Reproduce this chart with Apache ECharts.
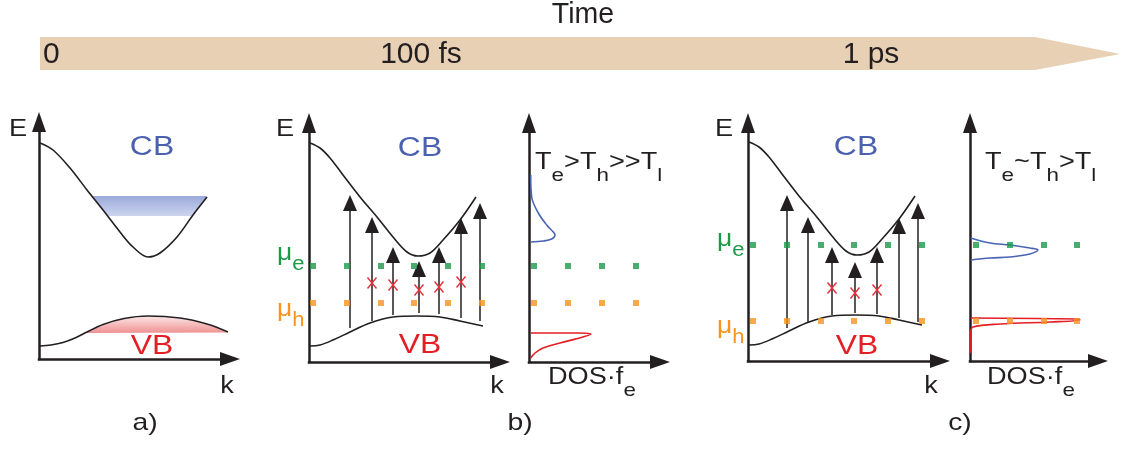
<!DOCTYPE html>
<html>
<head>
<meta charset="utf-8">
<script src="https://cdn.jsdelivr.net/npm/echarts@6/dist/echarts.min.js"></script>
<style>
  html, body { margin: 0; padding: 0; background: #ffffff; }
  #chart { width: 1122px; height: 450px; }
</style>
</head>
<body>
<div id="chart"></div>
<script>
// ---------------- data (k and E in arbitrary units) ----------------

// panel a: bands before excitation
const cbCurveA = [[0.01,2.16],[0.14,2.09],[0.31,1.91],[0.48,1.69],[0.64,1.49],[0.81,1.27],[0.94,1.12],[1.09,1.02],[1.21,1.06],[1.38,1.22],[1.54,1.44],[1.68,1.62]];
const vbCurveA = [[0.01,0.13],[0.12,0.14],[0.24,0.165],[0.36,0.21],[0.48,0.27],[0.64,0.345],[0.85,0.405],[1.09,0.43],[1.41,0.41],[1.68,0.35],[1.89,0.27]];
// occupied states (electrons in CB, holes in VB)
const electronFillA = [[0.53,1.63],[1.68,1.63],[1.53,1.43],[0.69,1.43]];
const holeFillA = [[0.46,0.26],[0.55,0.30],[0.64,0.34],[0.75,0.375],[0.85,0.40],[0.97,0.415],[1.09,0.423],[1.25,0.418],[1.41,0.403],[1.55,0.38],[1.68,0.345],[1.79,0.31],[1.89,0.265]];

// panels b and c: same band structure
const cbCurve = [[0.01,2.19],[0.11,2.14],[0.21,2.04],[0.34,1.87],[0.51,1.65],[0.68,1.45],[0.84,1.25],[0.98,1.10],[1.09,1.06],[1.21,1.09],[1.34,1.22],[1.51,1.42],[1.67,1.65]];
const vbCurve = [[0.01,0.16],[0.11,0.17],[0.24,0.22],[0.41,0.30],[0.61,0.39],[0.84,0.45],[1.08,0.46],[1.31,0.45],[1.51,0.41],[1.74,0.36]];

// panel b: optical transitions, blocked transitions, quasi-Fermi levels
const arrowK_B    = [0.41,0.63,0.84,1.10,1.30,1.52,1.71];
const arrowFrom_B = [0.34,0.41,0.47,0.49,0.48,0.44,0.41];
const arrowTo_B   = [1.67,1.45,1.15,1.01,1.15,1.44,1.59];
const crossK_B = [0.63,0.84,1.10,1.30,1.52];
const crossE_B = [0.79,0.77,0.72,0.75,0.80];
const muDotsK_B  = [0.04,0.38,0.72,1.05,1.39,1.73];
const dosDotsK_B = [0.05,0.39,0.73,1.07];
const muE_B = 0.96;
const muH_B = 0.59;
// panel b: DOS x occupation (DOS·f, E)
const dosElecB = [[0.017,1.87],[0.027,1.65],[0.093,1.49],[0.177,1.37],[0.243,1.30],[0.26,1.27],[0.227,1.23],[0.143,1.21],[0.017,1.20]];
const dosHoleB = [[0.017,0.29],[0.477,0.29],[0.62,0.28],[0.54,0.25],[0.31,0.19],[0.14,0.14],[0.06,0.09],[0.017,0.04]];

// panel c
const arrowK_C    = [0.39,0.60,0.84,1.07,1.29,1.51,1.70];
const arrowFrom_C = [0.33,0.39,0.46,0.48,0.47,0.43,0.39];
const arrowTo_C   = [1.66,1.44,1.14,0.99,1.14,1.43,1.58];
const crossK_C = [0.84,1.07,1.29];
const crossE_C = [0.73,0.68,0.71];
const muDotsK_C  = [0.05,0.39,0.73,1.06,1.40,1.74];
const dosDotsK_C = [0.06,0.40,0.74,1.07];
const muE_C = 1.16;
const muH_C = 0.40;
const dosElecC = [[0.007,1.23],[0.20,1.18],[0.40,1.16],[0.60,1.13],[0.68,1.11],[0.60,1.07],[0.40,1.04],[0.20,1.03],[0.007,1.01]];
const dosHoleC = [[0.007,0.43],[1.08,0.42],[1.10,0.41],[0.80,0.39],[0.30,0.37],[0.03,0.34],[0.007,0.28],[0.005,0.08]];

// text
const timeTitle = 'Time';
const timeTicks = ['0', '100 fs', '1 ps'];
const panelTags = ['a)', 'b)', 'c)'];

// ---------------- styling & layout ----------------
const INK = '#231f20';
const CB_BLUE = '#4b61b0';
const VB_RED = '#e31e24';
const CROSS_RED = '#e8303a';
const MU_GREEN = '#1c9a48';
const MU_ORANGE = '#f7931e';
const DOS_BLUE = '#4a64b4';
const FONT = '"Liberation Sans", Arial, Helvetica, sans-serif';
const SX = 1.18;   // lettering in the panels is slightly wide

const grids = [
  { left: 39,  top: 122, width: 191, height: 237 },  // a  E(k)
  { left: 309, top: 123, width: 191, height: 239 },  // b  E(k)
  { left: 529, top: 123, width: 131, height: 239 },  // b  DOS
  { left: 748, top: 123, width: 192, height: 238 },  // c  E(k)
  { left: 970, top: 123, width: 128, height: 238 }   // c  DOS
];

const axisLine = {
  show: true,
  lineStyle: { color: INK, width: 2.5, cap: 'square' },
  symbol: ['none', 'triangle'],
  symbolSize: [14, 20]
};
const bareAxis = (i, max) => ({
  type: 'value', gridIndex: i, min: 0, max,
  axisLine, axisTick: { show: false }, axisLabel: { show: false }, splitLine: { show: false }
});

// ---------------- series builders ----------------
const curve = (g, data, color) => ({
  type: 'line', xAxisIndex: g, yAxisIndex: g, data, smooth: 0.35,
  symbol: 'none', silent: true, z: 3, lineStyle: { color, width: 1.6 }
});
const dots = (g, ks, e, color) => ({
  type: 'scatter', xAxisIndex: g, yAxisIndex: g, data: ks.map(k => [k, e]),
  symbol: 'rect', symbolSize: 6, itemStyle: { color }, silent: true, z: 6
});
const fill = (g, pts, c0, c1) => ({
  type: 'custom', xAxisIndex: g, yAxisIndex: g, data: pts, silent: true, z: 1,
  renderItem(params, api) {
    if (params.dataIndex !== 0) return;
    return {
      type: 'polygon',
      shape: { points: pts.map(p => api.coord(p)) },
      style: {
        fill: new echarts.graphic.LinearGradient(0, 0, 0, 1, [
          { offset: 0, color: c0 }, { offset: 1, color: c1 }
        ])
      }
    };
  }
});
const arrows = (g, ks, from, to) => ({
  type: 'custom', xAxisIndex: g, yAxisIndex: g, silent: true, z: 5,
  data: ks.map((k, i) => [k, from[i], to[i]]),
  encode: { x: 0, y: [1, 2] },
  renderItem(params, api) {
    const b = api.coord([api.value(0), api.value(1)]);
    const t = api.coord([api.value(0), api.value(2)]);
    const hw = 7, hl = 16;
    return {
      type: 'group',
      children: [
        { type: 'line', shape: { x1: b[0], y1: b[1], x2: t[0], y2: t[1] + hl - 1 },
          style: { stroke: INK, lineWidth: 1.5 } },
        { type: 'polygon', shape: { points: [[t[0], t[1]], [t[0] - hw, t[1] + hl], [t[0] + hw, t[1] + hl]] },
          style: { fill: INK } }
      ]
    };
  }
});
const crosses = (g, ks, es) => ({
  type: 'custom', xAxisIndex: g, yAxisIndex: g, silent: true, z: 7,
  data: ks.map((k, i) => [k, es[i]]),
  renderItem(params, api) {
    const c = api.coord([api.value(0), api.value(1)]);
    const w = 4.5, h = 5.5;
    const st = { stroke: CROSS_RED, lineWidth: 1.4 };
    return {
      type: 'group',
      children: [
        { type: 'line', shape: { x1: c[0] - w, y1: c[1] - h, x2: c[0] + w, y2: c[1] + h }, style: st },
        { type: 'line', shape: { x1: c[0] + w, y1: c[1] - h, x2: c[0] - w, y2: c[1] + h }, style: st }
      ]
    };
  }
});

// ---------------- text builders ----------------
function label(x, y, text, o) {
  const align = o.align || 'center';
  const valign = o.valign || 'middle';
  return {
    type: 'text', x, y, scaleX: o.sx || 1, silent: true, z: 20,
    style: {
      text, fill: o.color || INK, fontFamily: FONT, fontSize: o.size,
      align, textAlign: align, verticalAlign: valign, textVerticalAlign: valign,
      rich: o.rich
    }
  };
}
function subRich(color, main, sub, drop) {
  return {
    m: { fill: color, fontFamily: FONT, fontSize: main, lineHeight: main + 2, verticalAlign: 'top' },
    s: { fill: color, fontFamily: FONT, fontSize: sub, lineHeight: sub + 2, verticalAlign: 'top', padding: [drop, 0, 0, 0] }
  };
}
const subLabel = (x, y, text, color, main, sub, drop, sx) =>
  label(x, y, text, { align: 'left', valign: 'top', sx, rich: subRich(color, main, sub, drop), size: main, color });

const timeArrowOutline = [[40, 37], [1035, 37], [1120, 54], [1035, 70], [40, 70]];

const graphics = [
  { type: 'polygon', shape: { points: timeArrowOutline }, style: { fill: '#e8d0b5' }, silent: true, z: 0 },
  label(583, 15, timeTitle, { size: 30, sx: 0.95 }),
  label(43, 55, timeTicks[0], { size: 30, align: 'left' }),
  label(421, 55, timeTicks[1], { size: 30 }),
  label(871, 55, timeTicks[2], { size: 30 }),

  // axis names
  label(27, 130, 'E', { size: 23, align: 'right', sx: SX }),
  label(294, 130, 'E', { size: 23, align: 'right', sx: SX }),
  label(733, 130, 'E', { size: 23, align: 'right', sx: SX }),
  label(227, 387, 'k', { size: 23, sx: SX }),
  label(497, 387, 'k', { size: 23, sx: SX }),
  label(931, 387, 'k', { size: 23, sx: SX }),

  // band names
  label(152, 148, 'CB', { size: 27, sx: SX, color: CB_BLUE }),
  label(420, 149, 'CB', { size: 27, sx: SX, color: CB_BLUE }),
  label(856, 148, 'CB', { size: 27, sx: SX, color: CB_BLUE }),
  label(152, 347, 'VB', { size: 27, sx: SX, color: VB_RED }),
  label(420, 346, 'VB', { size: 27, sx: SX, color: VB_RED }),
  label(857, 347, 'VB', { size: 27, sx: SX, color: VB_RED }),

  // panel tags
  label(145, 423, panelTags[0], { size: 24, sx: SX }),
  label(520, 423, panelTags[1], { size: 24, sx: SX }),
  label(960, 423, panelTags[2], { size: 24, sx: SX }),

  // quasi-Fermi level names
  subLabel(277, 241, '{m|μ}{s|e}', MU_GREEN, 24, 20, 13, 1.1),
  subLabel(277, 297, '{m|μ}{s|h}', MU_ORANGE, 24, 20, 13, 1.1),
  subLabel(717, 227, '{m|μ}{s|e}', MU_GREEN, 24, 20, 13, 1.1),
  subLabel(717, 314, '{m|μ}{s|h}', MU_ORANGE, 24, 20, 13, 1.1),

  // temperature relations
  subLabel(535, 151, '{m|T}{s|e}{m|>T}{s|h}{m|>>T}{s|l}', INK, 23, 19, 15, SX),
  subLabel(985, 151, '{m|T}{s|e}{m|~T}{s|h}{m|>T}{s|l}', INK, 23, 19, 15, SX),

  // DOS axis names
  subLabel(548, 366, '{m|DOS·f}{s|e}', INK, 23, 19, 15, SX),
  subLabel(987, 366, '{m|DOS·f}{s|e}', INK, 23, 19, 15, SX)
];

// ---------------- chart ----------------
const chart = echarts.init(document.getElementById('chart'), null, { renderer: 'canvas' });
chart.setOption({
  animation: false,
  backgroundColor: '#ffffff',
  grid: grids,
  xAxis: grids.map((g, i) => bareAxis(i, g.width / 100)),
  yAxis: grids.map((g, i) => bareAxis(i, g.height / 100)),
  graphic: { elements: graphics },
  series: [
    // a
    fill(0, electronFillA, '#9aaad9', '#ccd4ee'),
    fill(0, holeFillA, '#fbe2e2', '#ef9191'),
    curve(0, cbCurveA, INK),
    curve(0, vbCurveA, INK),
    // b
    curve(1, cbCurve, INK),
    curve(1, vbCurve, INK),
    arrows(1, arrowK_B, arrowFrom_B, arrowTo_B),
    crosses(1, crossK_B, crossE_B),
    dots(1, muDotsK_B, muE_B, MU_GREEN),
    dots(1, muDotsK_B, muH_B, MU_ORANGE),
    curve(2, dosElecB, DOS_BLUE),
    curve(2, dosHoleB, VB_RED),
    dots(2, dosDotsK_B, muE_B, MU_GREEN),
    dots(2, dosDotsK_B, muH_B, MU_ORANGE),
    // c
    curve(3, cbCurve, INK),
    curve(3, vbCurve, INK),
    arrows(3, arrowK_C, arrowFrom_C, arrowTo_C),
    crosses(3, crossK_C, crossE_C),
    dots(3, muDotsK_C, muE_C, MU_GREEN),
    dots(3, muDotsK_C, muH_C, MU_ORANGE),
    curve(4, dosElecC, DOS_BLUE),
    curve(4, dosHoleC, VB_RED),
    dots(4, dosDotsK_C, muE_C, MU_GREEN),
    dots(4, dosDotsK_C, muH_C, MU_ORANGE)
  ]
});
</script>
</body>
</html>
